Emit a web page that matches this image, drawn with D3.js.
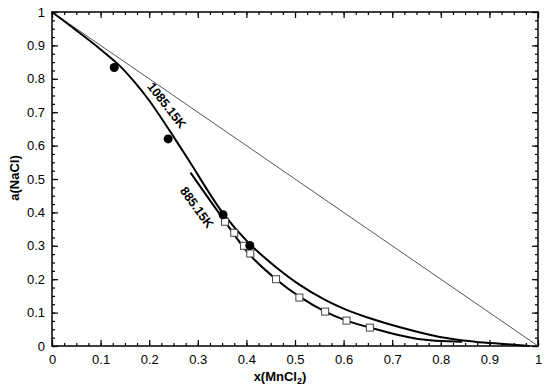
<!DOCTYPE html>
<html>
<head>
<meta charset="utf-8">
<script src="https://cdn.jsdelivr.net/npm/d3@7"></script>
<style>
  body { margin: 0; background: #fff; }
  text { font-family: "Liberation Sans", Arial, sans-serif; }
</style>
</head>
<body>
<script>
// ideal (Raoult) line
var idealX = [0, 1];
var idealY = [1, 0];

// 1085.15K model curve
var hotX = [0, 0.05, 0.10, 0.14, 0.17, 0.20, 0.25, 0.284, 0.352, 0.407, 0.461, 0.509, 0.562, 0.606, 0.654, 0.716, 0.798, 0.870, 0.930, 0.983];
var hotY = [1, 0.945, 0.888, 0.838, 0.790, 0.735, 0.627, 0.550, 0.397, 0.305, 0.236, 0.184, 0.138, 0.108, 0.083, 0.056, 0.027, 0.013, 0.006, 0];

// 885.15K model curve
var coldX = [0.285, 0.349, 0.407, 0.461, 0.510, 0.562, 0.606, 0.654, 0.750, 0.844];
var coldY = [0.519, 0.387, 0.273, 0.200, 0.147, 0.103, 0.076, 0.055, 0.022, 0.013];

// experimental points
var circX = [0.128, 0.239, 0.352, 0.407];
var circY = [0.834, 0.620, 0.393, 0.301];
var sqX = [0.356, 0.375, 0.395, 0.408, 0.461, 0.509, 0.562, 0.606, 0.654];
var sqY = [0.372, 0.339, 0.300, 0.277, 0.200, 0.145, 0.103, 0.076, 0.055];

var tickVals = d3.range(0, 1.0001, 0.1).map(d => +d.toFixed(1));
var minorVals = d3.range(0, 1.0001, 0.025);

var W = 550, H = 387;
var m = { left: 52, right: 12, top: 12, bottom: 41 };

var svg = d3.select("body").append("svg").attr("width", W).attr("height", H);

var x = d3.scaleLinear().domain([0, 1]).range([m.left, W - m.right]);
var y = d3.scaleLinear().domain([0, 1]).range([H - m.bottom, m.top]);

var fmt = d => d === 0 ? "0" : d === 1 ? "1" : d3.format(".1f")(d);

// inward ticks on all four sides
function axisSet(gen, tr, vals, size) {
  var g = svg.append("g").attr("transform", tr)
    .call(gen.tickValues(vals).tickSize(size).tickFormat(""));
  g.select(".domain").remove();
  g.selectAll(".tick line").attr("stroke", "#000").attr("stroke-width", 1.2);
  return g;
}
var bottomY = H - m.bottom, topY = m.top, leftX = m.left, rightX = W - m.right;

[[minorVals, 3], [tickVals, 6]].forEach(([vals, size]) => {
  axisSet(d3.axisTop(x), `translate(0,${bottomY})`, vals, size);
  axisSet(d3.axisBottom(x), `translate(0,${topY})`, vals, size);
  axisSet(d3.axisRight(y), `translate(${leftX},0)`, vals, size);
  axisSet(d3.axisLeft(y), `translate(${rightX},0)`, vals, size);
});

// tick labels
var xl = svg.append("g").attr("transform", `translate(0,${bottomY})`)
  .call(d3.axisBottom(x).tickValues(tickVals).tickSize(0).tickPadding(9).tickFormat(fmt));
xl.select(".domain").remove();
xl.selectAll("text").attr("font-size", 13).attr("fill", "#000");

var yl = svg.append("g").attr("transform", `translate(${leftX},0)`)
  .call(d3.axisLeft(y).tickValues(tickVals).tickSize(0).tickPadding(7).tickFormat(fmt));
yl.select(".domain").remove();
yl.selectAll("text").attr("font-size", 13).attr("fill", "#000");

// frame
svg.append("rect")
  .attr("x", leftX).attr("y", topY)
  .attr("width", rightX - leftX).attr("height", bottomY - topY)
  .attr("fill", "none").attr("stroke", "#000").attr("stroke-width", 1.5);

var line = d3.line().x(d => x(d[0])).y(d => y(d[1])).curve(d3.curveCatmullRom.alpha(0.5));

svg.append("path")
  .datum(d3.zip(idealX, idealY))
  .attr("d", d3.line().x(d => x(d[0])).y(d => y(d[1])))
  .attr("fill", "none").attr("stroke", "#444").attr("stroke-width", 0.9);

svg.append("path")
  .datum(d3.zip(hotX, hotY))
  .attr("d", line)
  .attr("fill", "none").attr("stroke", "#000").attr("stroke-width", 2);

svg.append("path")
  .datum(d3.zip(coldX, coldY))
  .attr("d", line)
  .attr("fill", "none").attr("stroke", "#000").attr("stroke-width", 2);

svg.append("g").selectAll("rect")
  .data(d3.zip(sqX, sqY))
  .enter().append("rect")
  .attr("x", d => x(d[0]) - 3.5).attr("y", d => y(d[1]) - 3.5)
  .attr("width", 7).attr("height", 7)
  .attr("fill", "#fff").attr("stroke", "#444").attr("stroke-width", 1);

svg.append("g").selectAll("circle")
  .data(d3.zip(circX, circY))
  .enter().append("circle")
  .attr("cx", d => x(d[0])).attr("cy", d => y(d[1]))
  .attr("r", 4.5).attr("fill", "#000");

// curve labels
svg.append("text")
  .attr("transform", "translate(166,106) rotate(52)")
  .attr("text-anchor", "middle").attr("dominant-baseline", "middle")
  .attr("font-size", 12.5).attr("font-weight", "bold")
  .text("1085.15K");

svg.append("text")
  .attr("transform", "translate(196,208) rotate(54)")
  .attr("text-anchor", "middle").attr("dominant-baseline", "middle")
  .attr("font-size", 12.5).attr("font-weight", "bold")
  .text("885.15K");

// axis titles
svg.append("text")
  .attr("transform", "translate(19,178) rotate(-90)")
  .attr("text-anchor", "middle")
  .attr("font-size", 13).attr("font-weight", "bold")
  .text("a(NaCl)");

var xt = svg.append("text")
  .attr("x", 280).attr("y", 381)
  .attr("text-anchor", "middle")
  .attr("font-size", 13).attr("font-weight", "bold");
xt.append("tspan").text("x(MnCl");
xt.append("tspan").attr("font-size", 9).attr("dy", 3).text("2");
xt.append("tspan").attr("dy", -3).text(")");
</script>
</body>
</html>
